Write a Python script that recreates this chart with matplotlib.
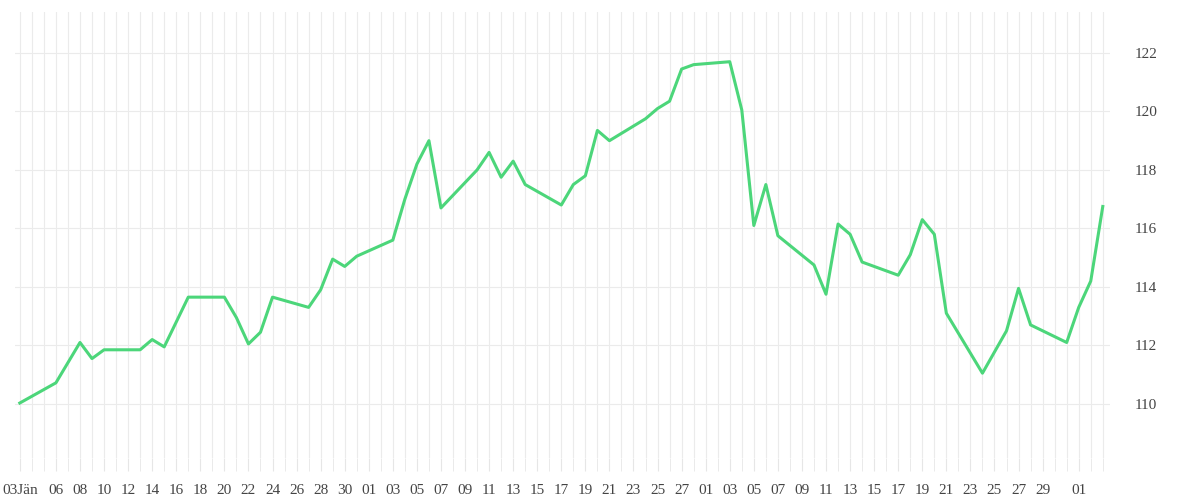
import matplotlib
matplotlib.use("Agg")
import matplotlib.pyplot as plt
import pandas as pd

dates = ["2025-01-03","2025-01-06","2025-01-08","2025-01-09","2025-01-10","2025-01-13","2025-01-14","2025-01-15",
         "2025-01-16","2025-01-17","2025-01-20","2025-01-21","2025-01-22","2025-01-23","2025-01-24","2025-01-27",
         "2025-01-28","2025-01-29","2025-01-30","2025-01-31","2025-02-03","2025-02-04","2025-02-05","2025-02-06",
         "2025-02-07","2025-02-10","2025-02-11","2025-02-12","2025-02-13","2025-02-14","2025-02-17","2025-02-18",
         "2025-02-19","2025-02-20","2025-02-21","2025-02-24","2025-02-25","2025-02-26","2025-02-27","2025-02-28",
         "2025-03-03","2025-03-04","2025-03-05","2025-03-06","2025-03-07","2025-03-10","2025-03-11","2025-03-12",
         "2025-03-13","2025-03-14","2025-03-17","2025-03-18","2025-03-19","2025-03-20","2025-03-21","2025-03-24",
         "2025-03-26","2025-03-27","2025-03-28","2025-03-31","2025-04-01","2025-04-02","2025-04-03"]
values = [110.03,110.72,112.1,111.55,111.85,111.85,112.2,111.95,
          112.8,113.65,113.65,112.95,112.05,112.45,113.65,113.3,
          113.9,114.95,114.7,115.05,115.6,117.0,118.2,119.0,
          116.7,118.0,118.6,117.75,118.3,117.5,116.8,117.5,
          117.8,119.35,119.0,119.75,120.1,120.35,121.45,121.6,
          121.7,120.05,116.1,117.5,115.75,114.75,113.75,116.15,
          115.8,114.85,114.4,115.1,116.3,115.8,113.1,111.05,
          112.5,113.95,112.7,112.1,113.3,114.2,116.75]
tick_labels = {"2025-01-03":"03Jän"}
for d in ["06","08","10","12","14","16","18","20","22","24","26","28","30"]:
    tick_labels["2025-01-"+d] = d
for d in ["01","03","05","07","09","11","13","15","17","19","21","23","25","27"]:
    tick_labels["2025-02-"+d] = d
for d in ["01","03","05","07","09","11","13","15","17","19","21","23","25","27","29"]:
    tick_labels["2025-03-"+d] = d
tick_labels["2025-04-01"] = "01"

start = pd.Timestamp("2025-01-03")
x = [(pd.Timestamp(d) - start).days for d in dates]

plt.rcParams['font.family'] = ['Liberation Serif', 'DejaVu Serif']
fig = plt.figure(figsize=(12, 5), dpi=100)
ax = fig.add_axes([0.0125, 0.084, 0.9125, 0.892])
ax.plot(x, values, color="#4cd67a", lw=2.2, zorder=3)
ax.set_xlim(-0.4, 90.6)
ax.set_ylim(108.15, 123.4)
ax.set_xticks(range(0, 91), minor=True)
ax.set_xticks([(pd.Timestamp(k) - start).days for k in tick_labels])
ax.set_xticklabels(list(tick_labels.values()), fontsize=11, color="#444444")
ax.set_yticks([110, 112, 114, 116, 118, 120, 122])
ax.yaxis.tick_right()
ax.tick_params(axis='y', length=0, pad=18, labelsize=11, labelcolor="#444444")
ax.tick_params(axis='x', which='both', length=9, color="#e6e6e6", pad=10)
ax.grid(True, which='both', axis='x', color="#ebebeb", lw=0.8)
ax.grid(True, which='major', axis='y', color="#ebebeb", lw=0.8)
for s in ax.spines.values():
    s.set_visible(False)
fig.savefig("out.png")
